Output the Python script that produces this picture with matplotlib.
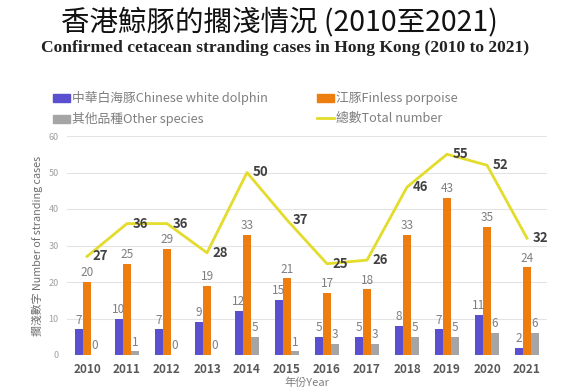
import matplotlib
matplotlib.use("Agg")
import matplotlib.pyplot as plt
import numpy as np
from matplotlib.patches import Patch
from matplotlib.lines import Line2D

plt.rcParams["font.family"] = ["Noto Sans CJK TC", "DejaVu Sans"]

YEARS = ["2010", "2011", "2012", "2013", "2014", "2015",
         "2016", "2017", "2018", "2019", "2020", "2021"]
WHITE_DOLPHIN = [7, 10, 7, 9, 12, 15, 5, 5, 8, 7, 11, 2]
FINLESS = [20, 25, 29, 19, 33, 21, 17, 18, 33, 43, 35, 24]
OTHER = [0, 1, 0, 0, 5, 1, 3, 3, 5, 5, 6, 6]
TOTAL = [27, 36, 36, 28, 50, 37, 25, 26, 46, 55, 52, 32]

BLUE = "#5a4fcf"
ORANGE = "#ed7d0f"
GRAY = "#a5a5a5"
YELLOW = "#e4dc2c"
TXT = "#7f7f7f"

fig = plt.figure(figsize=(5.7, 3.89), dpi=100)
ax = fig.add_axes([67 / 570, 34 / 389, 480 / 570, 219 / 389])

x = np.arange(len(YEARS))
w = 0.2
b1 = ax.bar(x - w, WHITE_DOLPHIN, w, color=BLUE)
b2 = ax.bar(x, FINLESS, w, color=ORANGE)
b3 = ax.bar(x + w, OTHER, w, color=GRAY)
for bars in (b1, b2, b3):
    ax.bar_label(bars, padding=2, color=TXT, fontsize=8.5)

ax.plot(x, TOTAL, color=YELLOW, lw=2, zorder=3)
for xi, v in zip(x, TOTAL):
    ax.annotate(str(v), (xi, v), xytext=(4, 0), textcoords="offset points",
                ha="left", va="center", fontsize=9.5, fontweight="bold",
                color="#404040", zorder=4)

ax.set_xlim(-0.5, len(YEARS) - 0.5)
ax.set_ylim(0, 60)
ax.set_yticks(range(0, 61, 10))
ax.set_xticks(x)
ax.set_xticklabels(YEARS, fontweight="bold", fontsize=8.5, color="#595959")
ax.tick_params(axis="y", labelsize=6.5, labelcolor="#a0a0a0", length=0, pad=6)
ax.tick_params(axis="x", length=0, pad=6)
ax.grid(axis="y", color="#e3e3e3", lw=0.8)
ax.set_axisbelow(True)
for s in ax.spines.values():
    s.set_visible(False)

ax.set_ylabel("擱淺數字 Number of stranding cases", fontsize=7.8,
              color="#6f6f6f", labelpad=4)
fig.text(307 / 570, 1 / 389, "年份Year", fontsize=8, color="#7f7f7f",
         ha="center", va="bottom")

handles = [Patch(color=BLUE), Patch(color=GRAY),
           Patch(color=ORANGE), Line2D([], [], color=YELLOW, lw=2)]
labels = ["中華白海豚Chinese white dolphin", "其他品種Other species",
          "江豚Finless porpoise", "總數Total number"]
fig.legend(handles, labels, ncol=2, loc="upper left",
           bbox_to_anchor=(48 / 570, 1 - 86 / 389), frameon=False,
           fontsize=9.2, labelcolor="#7f7f7f", handlelength=1.3,
           handleheight=0.6, handletextpad=0.15, columnspacing=3.9,
           labelspacing=0.55, borderaxespad=0)

fig.text(0.49, 1 - 22 / 389, "香港鯨豚的擱淺情況 (2010至2021)", fontsize=20.5,
         ha="center", va="center", color="#111111")
fig.text(0.50, 1 - 48 / 389,
         "Confirmed cetacean stranding cases in Hong Kong (2010 to 2021)",
         fontsize=12.6, fontweight="bold", family="Liberation Serif",
         ha="center", va="center", color="#222222")

fig.savefig("out.png", dpi=100, facecolor="white")
